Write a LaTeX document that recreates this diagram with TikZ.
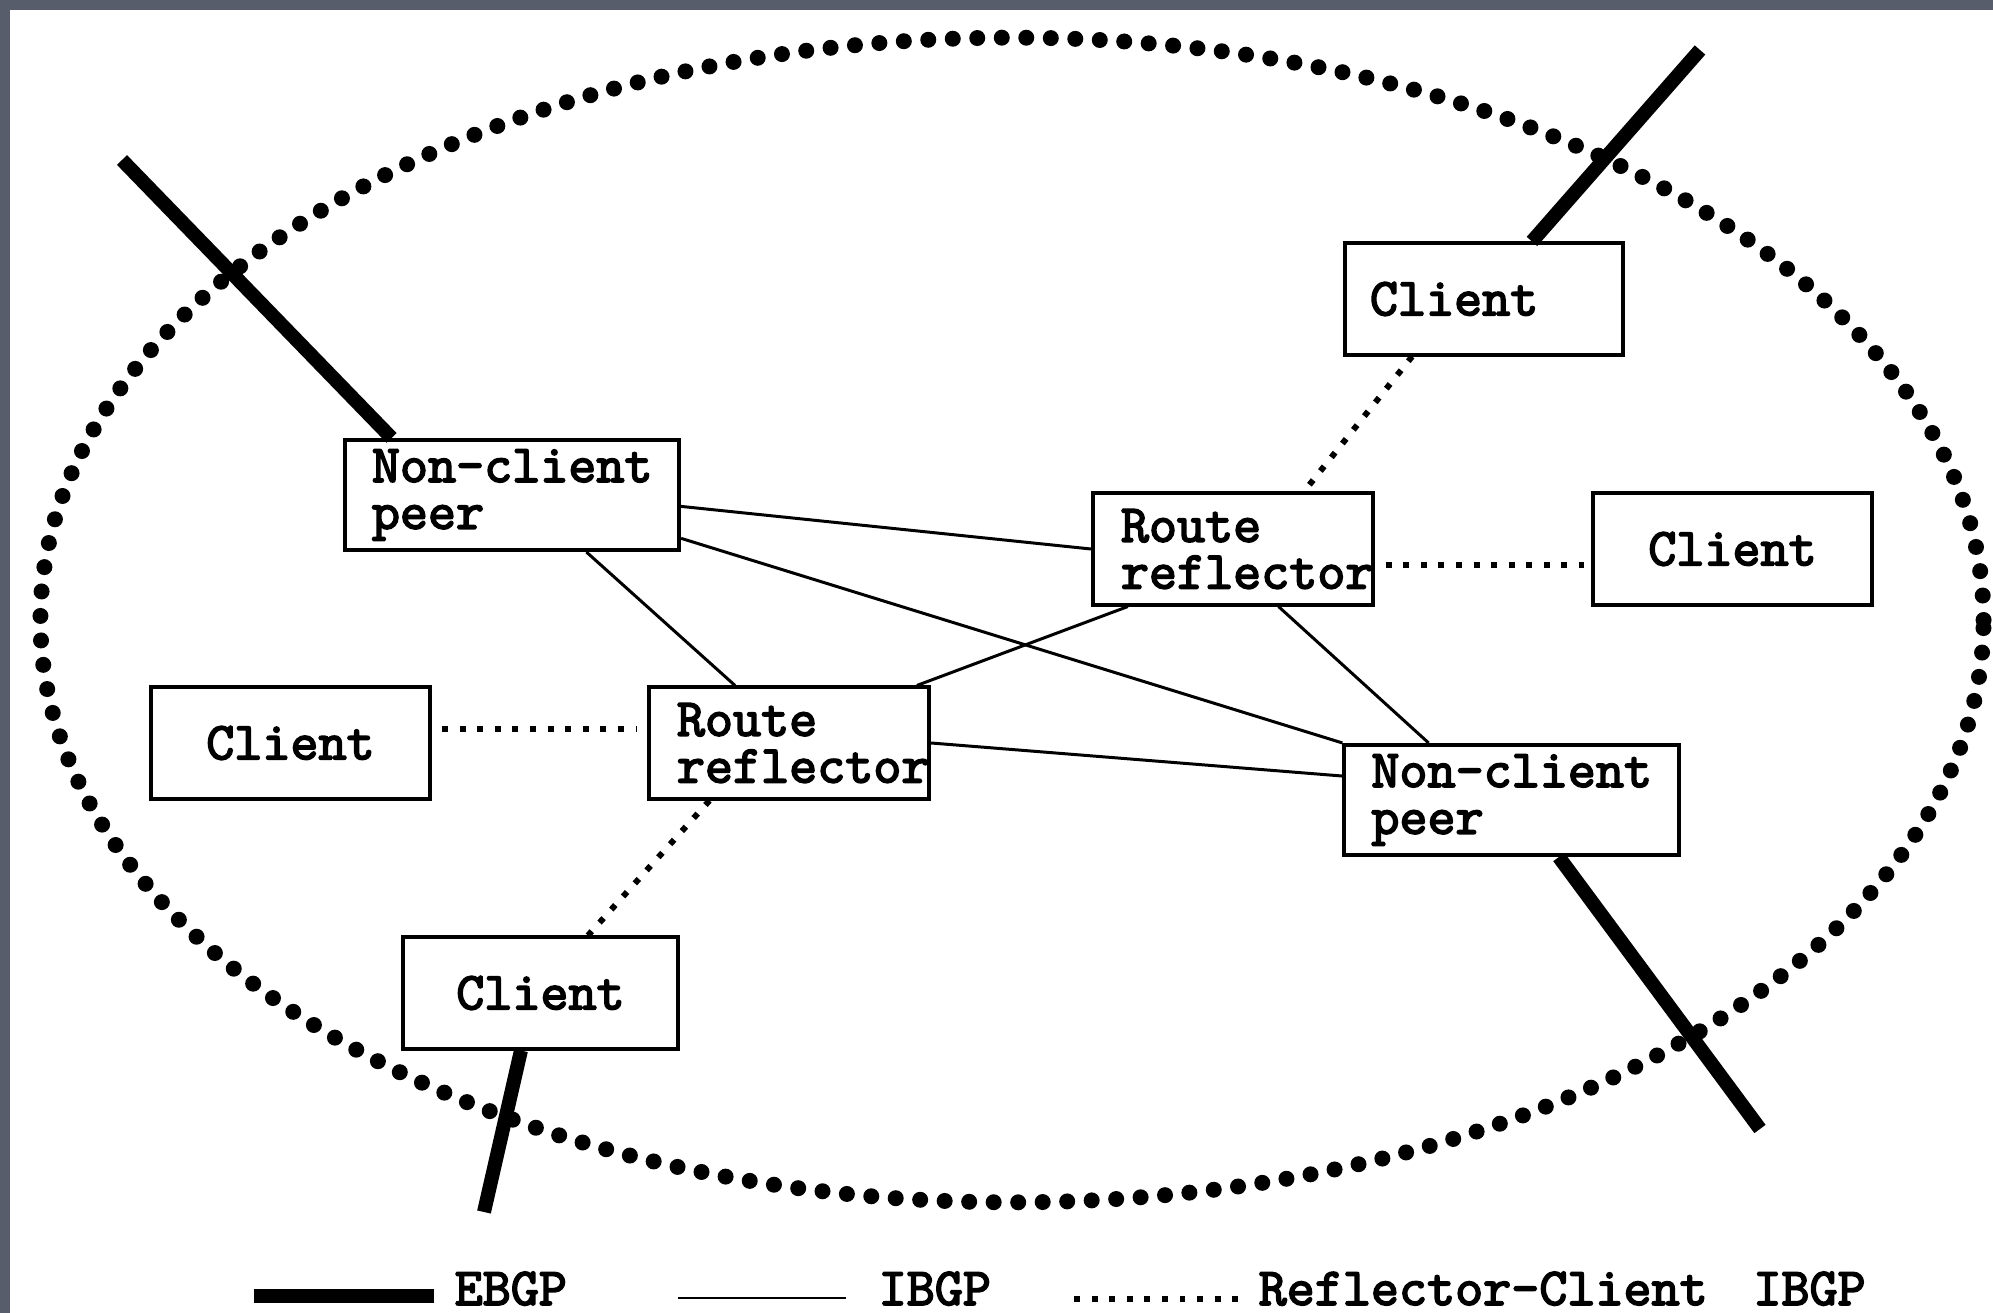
\documentclass[tikz,border=0pt]{standalone}
\usepackage{fontspec}
\usetikzlibrary{calc}
\definecolor{framegray}{RGB}{88,93,108}
% captions: heavy slab-serif typewriter face
\newfontfamily\capfam{lmmono10-regular.otf}[FakeBold=3]
\newcommand\capfont{\capfam\fontsize{15.2pt}{13.3pt}\selectfont}
\begin{document}
\begin{tikzpicture}[x=0.01cm,y=-0.01cm,
  box/.style={draw,line width=1.14pt,rectangle,inner ysep=0pt,font=\capfont},
  wide/.style={box,align=left,minimum height=1.10cm,text width=2.80cm,inner xsep=7.68pt},
  rrbox/.style={box,align=left,minimum height=1.11cm,text width=2.24cm,inner xsep=7.97pt},
  clbox/.style={box,align=center,minimum height=1.11cm,text width=2.28cm,inner xsep=7.11pt},
  legendtext/.style={anchor=base west,inner sep=0pt,font=\capfont},
  ibgp/.style={line width=0.85pt},
  rcl/.style={line width=1.7pt,dash pattern=on 1.7pt off 3.3pt},
  ebgp/.style={line width=3.98pt},
  cluster/.style={line width=4.55pt,line cap=round,dash pattern=on 0pt off 6.97pt}]

% canvas and dark frame on the top and left edges
\fill[white] (0,0) rectangle (1993,1313);
\useasboundingbox (0,0) rectangle (1993,1313);
\fill[framegray] (0,0) rectangle (1993,10);
\fill[framegray] (0,0) rectangle (10,1313);

% autonomous system boundary
\draw[cluster] (1012,620) ellipse [x radius=9.71cm, y radius=5.82cm];

% routers
\node[wide] (ncpa) at (512,495) {\mbox{Non-client}\\peer};
\node[rrbox] (rra) at (1233,549) {Route\\\mbox{reflector}};
\node[clbox,align=left] (cltr) at (1484,299) {Client};
\node[clbox] (clr) at (1732.5,549) {Client};
\node[clbox] (cll) at (290.5,743) {Client};
\node[rrbox] (rrb) at (789,743) {Route\\\mbox{reflector}};
\node[clbox,text width=2.25cm] (clb) at (540.5,993) {Client};
\node[wide] (ncpb) at (1511.5,800) {\mbox{Non-client}\\peer};

% IBGP full mesh between non-clients and reflectors
\draw[ibgp] ($(ncpa.north east)!0.6!(ncpa.south east)$) -- (rra.west);
\draw[ibgp] ($(ncpa.north east)!0.88!(ncpa.south east)$) -- (ncpb.north west);
\draw[ibgp] ($(ncpa.south west)!0.72!(ncpa.south east)$) -- ($(rrb.north west)!0.31!(rrb.north east)$);
\draw[ibgp] ($(rra.south west)!0.13!(rra.south east)$) -- ($(rrb.north west)!0.95!(rrb.north east)$);
\draw[ibgp] ($(rra.south west)!0.66!(rra.south east)$) -- ($(ncpb.north west)!0.255!(ncpb.north east)$);
\draw[ibgp] (rrb.east) -- ($(ncpb.north west)!0.29!(ncpb.south west)$);

% reflector-client sessions
\draw[rcl] ($(cltr.south west)!0.245!(cltr.south east)$) -- ($(rra.north west)!0.75!(rra.north east)$);
\draw[rcl,shorten <=3pt,shorten >=2pt] ($(rra.north east)!0.64!(rra.south east)$) -- ($(clr.north west)!0.64!(clr.south west)$);
\draw[rcl,shorten <=3pt,shorten >=3pt] ($(cll.north east)!0.38!(cll.south east)$) -- ($(rrb.north west)!0.38!(rrb.south west)$);
\draw[rcl] ($(rrb.south west)!0.22!(rrb.south east)$) -- ($(clb.north west)!0.67!(clb.north east)$);

% EBGP sessions leaving the AS
\coordinate (exa) at (122,160);
\coordinate (exb) at (1700,50);
\coordinate (exc) at (1760,1129);
\coordinate (exd) at (484,1212);
\draw[ebgp] (exa) -- ($(ncpa.north west)!0.144!(ncpa.north east)$);
\draw[ebgp] (exb) -- ($(cltr.north west)!0.67!(cltr.north east)$);
\draw[ebgp] ($(ncpb.south west)!0.64!(ncpb.south east)$) -- (exc);
\draw[ebgp] ($(clb.south west)!0.43!(clb.south east)$) -- (exd);

% legend
\coordinate (lga) at (254,1296);
\coordinate (lgb) at (434,1296);
\coordinate (lgc) at (678,1298);
\coordinate (lgd) at (846,1298);
\coordinate (lge) at (1074,1299);
\coordinate (lgf) at (1238,1299);
\draw[line width=3.7pt] (lga) -- (lgb);
\draw[ibgp] (lgc) -- (lgd);
\draw[rcl] (lge) -- (lgf);
\node[legendtext] (lta) at (454,1305) {EBGP};
\node[legendtext] (ltb) at (878,1305) {IBGP};
\node[legendtext] (ltc) at (1258,1305) {Reflector-Client\hspace{13pt}IBGP};
\end{tikzpicture}
\end{document}
